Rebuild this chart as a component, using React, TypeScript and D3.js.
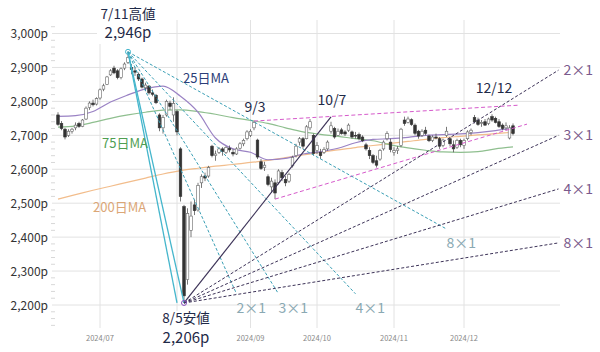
import React from 'react';
import { scaleLinear, line, curveMonotoneX, range } from 'd3';

// trading sessions (Tokyo), June 13 2024 - Dec 20 2024, then future sessions for the fan lines
const junDays = [13, 14, 17, 18, 19, 20, 21, 24, 25, 26, 27, 28];
const julDays = [1, 2, 3, 4, 5, 8, 9, 10, 11, 12, 16, 17, 18, 19, 22, 23, 24, 25, 26, 29, 30, 31];
const augDays = [1, 2, 5, 6, 7, 8, 9, 13, 14, 15, 16, 19, 20, 21, 22, 23, 26, 27, 28, 29, 30];
const sepDays = [2, 3, 4, 5, 6, 9, 10, 11, 12, 13, 17, 18, 19, 20, 24, 25, 26, 27, 30];
const octDays = [1, 2, 3, 4, 7, 8, 9, 10, 11, 15, 16, 17, 18, 21, 22, 23, 24, 25, 28, 29, 30, 31];
const novDays = [1, 5, 6, 7, 8, 11, 12, 13, 14, 15, 18, 19, 20, 21, 22, 25, 26, 27, 28, 29];
const decDays = [2, 3, 4, 5, 6, 9, 10, 11, 12, 13, 16, 17, 18, 19, 20];
const futureDays = ['12/23', '12/24', '12/25', '12/26', '12/27', '12/30', '01/06', '01/07', '01/08', '01/09', '01/10', '01/14', '01/15'];

// [open, high, low, close]
const junBars = [
  [2760, 2768, 2728, 2732], [2735, 2742, 2715, 2720], [2718, 2722, 2688, 2695], [2700, 2718, 2695, 2712],
  [2712, 2722, 2705, 2718], [2722, 2738, 2715, 2730], [2735, 2740, 2722, 2726], [2726, 2748, 2724, 2745],
  [2748, 2785, 2745, 2780], [2782, 2800, 2775, 2795], [2795, 2805, 2785, 2790], [2792, 2812, 2788, 2808],
];
const julBars = [
  [2810, 2838, 2805, 2834], [2836, 2852, 2830, 2846], [2850, 2875, 2848, 2872], [2878, 2895, 2875, 2890],
  [2898, 2905, 2880, 2884], [2890, 2895, 2865, 2870], [2870, 2900, 2865, 2896], [2898, 2915, 2892, 2910],
  [2915, 2946, 2910, 2929], [2900, 2910, 2880, 2894], [2890, 2900, 2875, 2886], [2880, 2885, 2860, 2866],
  [2866, 2870, 2838, 2842], [2840, 2855, 2830, 2848], [2845, 2848, 2820, 2825], [2825, 2835, 2815, 2821],
  [2818, 2822, 2792, 2796], [2760, 2765, 2712, 2722], [2722, 2760, 2705, 2752], [2760, 2805, 2755, 2800],
  [2795, 2802, 2775, 2785], [2760, 2812, 2740, 2794],
];
const augBars = [
  [2770, 2775, 2700, 2710], [2660, 2665, 2505, 2520], [2490, 2495, 2206, 2227], [2275, 2485, 2260, 2470],
  [2420, 2505, 2400, 2462], [2495, 2510, 2465, 2478], [2480, 2560, 2475, 2552], [2560, 2585, 2545, 2578],
  [2580, 2590, 2565, 2574], [2580, 2610, 2575, 2605], [2668, 2672, 2635, 2640], [2640, 2655, 2625, 2645],
  [2650, 2665, 2645, 2660], [2660, 2665, 2640, 2652], [2650, 2668, 2645, 2664], [2662, 2670, 2650, 2657],
  [2650, 2660, 2638, 2645], [2645, 2665, 2642, 2660], [2662, 2680, 2658, 2675], [2675, 2690, 2668, 2685],
  [2690, 2715, 2685, 2710],
];
const sepBars = [
  [2700, 2718, 2695, 2712], [2722, 2742, 2715, 2738], [2686, 2690, 2630, 2636], [2622, 2630, 2598, 2602],
  [2605, 2622, 2595, 2612], [2578, 2585, 2550, 2555], [2548, 2575, 2530, 2565], [2560, 2570, 2512, 2530],
  [2560, 2600, 2555, 2595], [2590, 2598, 2565, 2575], [2570, 2580, 2550, 2560], [2565, 2590, 2560, 2585],
  [2610, 2640, 2605, 2635], [2640, 2675, 2635, 2668], [2680, 2695, 2670, 2690], [2690, 2695, 2660, 2668],
  [2690, 2730, 2688, 2725], [2722, 2748, 2715, 2740], [2700, 2705, 2640, 2647],
];
const octBars = [
  [2655, 2680, 2645, 2670], [2650, 2660, 2630, 2640], [2650, 2665, 2645, 2658], [2660, 2685, 2655, 2680],
  [2712, 2740, 2705, 2728], [2720, 2725, 2690, 2695], [2700, 2720, 2698, 2712], [2716, 2722, 2702, 2705],
  [2710, 2715, 2698, 2704], [2715, 2735, 2710, 2730], [2710, 2714, 2690, 2695], [2700, 2710, 2690, 2698],
  [2702, 2708, 2685, 2690], [2695, 2700, 2680, 2684], [2672, 2678, 2655, 2660], [2655, 2665, 2630, 2640],
  [2640, 2645, 2615, 2620], [2625, 2640, 2605, 2612], [2630, 2660, 2625, 2655], [2660, 2685, 2655, 2680],
  [2690, 2712, 2685, 2705], [2680, 2690, 2650, 2658],
];
const novBars = [
  [2650, 2665, 2640, 2655], [2655, 2668, 2645, 2660], [2670, 2722, 2665, 2718], [2745, 2755, 2728, 2735],
  [2738, 2755, 2735, 2748], [2746, 2750, 2728, 2732], [2730, 2735, 2700, 2706], [2712, 2716, 2690, 2698],
  [2700, 2718, 2695, 2712], [2715, 2725, 2700, 2706], [2698, 2702, 2680, 2684], [2685, 2700, 2680, 2695],
  [2695, 2705, 2688, 2692], [2690, 2695, 2660, 2668], [2670, 2690, 2665, 2686], [2700, 2725, 2695, 2712],
  [2690, 2695, 2668, 2675], [2672, 2685, 2650, 2660], [2665, 2690, 2660, 2685], [2685, 2690, 2665, 2672],
];
const decBars = [
  [2670, 2690, 2660, 2685], [2690, 2715, 2685, 2710], [2708, 2720, 2700, 2715], [2752, 2760, 2735, 2740],
  [2745, 2752, 2728, 2732], [2735, 2745, 2725, 2738], [2740, 2748, 2728, 2730], [2735, 2752, 2730, 2748],
  [2755, 2762, 2740, 2745], [2750, 2755, 2735, 2738], [2740, 2748, 2722, 2726], [2730, 2735, 2715, 2720],
  [2722, 2738, 2715, 2728], [2692, 2730, 2688, 2722], [2728, 2735, 2700, 2705],
];

// moving averages, read every 5 sessions
const maDates = ['06/13', '06/20', '06/27', '07/04', '07/11', '07/19', '07/26', '08/02', '08/09', '08/19', '08/26', '09/02', '09/09', '09/17',
  '09/25', '10/02', '10/09', '10/17', '10/24', '10/31', '11/08', '11/15', '11/22', '11/29', '12/06', '12/13', '12/20'];
const ma25 = [2756, 2758, 2770, 2798, 2819, 2837, 2845, 2815, 2768, 2692, 2660, 2650, 2628, 2632, 2645, 2652, 2662, 2678, 2688, 2690,
  2694, 2700, 2702, 2704, 2708, 2714, 2722];
const ma75 = [2724, 2728, 2738, 2750, 2760, 2768, 2774, 2775, 2770, 2762, 2752, 2744, 2735, 2722, 2710, 2703, 2697, 2690, 2684, 2672,
  2663, 2656, 2651, 2650, 2652, 2660, 2666];
const ma200 = [2512, 2525, 2538, 2550, 2562, 2574, 2586, 2596, 2603, 2609, 2614, 2620, 2626, 2634, 2642, 2650, 2657, 2664, 2670, 2676,
  2682, 2688, 2693, 2697, 2701, 2705, 2709];

// Gann fans and channel lines: [from date, from price, to date, to price, label]
const highFan = [
  ['07/11', 2946, '08/05', 2206, ''],
  ['07/11', 2946, '08/01', 2206, ''],
  ['07/11', 2946, '08/27', 2233, '2×1'],
  ['07/11', 2946, '09/12', 2233, '3×1'],
  ['07/11', 2946, '10/17', 2233, '4×1'],
  ['07/11', 2946, '11/25', 2424, '8×1'],
];
const lowFan = [
  ['08/05', 2206, '10/07', 2754, ''],
  ['08/05', 2206, '01/15', 2892, '2×1'],
  ['08/05', 2206, '01/15', 2700, '3×1'],
  ['08/05', 2206, '01/15', 2542, '4×1'],
  ['08/05', 2206, '01/15', 2383, '8×1'],
];
const channel = [
  ['09/03', 2742, '12/24', 2789],
  ['09/11', 2512, '12/26', 2733],
];

const priceTicks = [3000, 2900, 2800, 2700, 2600, 2500, 2400, 2300, 2200];
const monthTicks = ['07', '08', '09', '10', '11', '12'];
const monthLabels = ['07', '09', '10', '11', '12']; // 08 sits under the 8/5 note

const pad = (n: number) => String(n).padStart(2, '0');
const sessions = [
  ...junDays.map(d => `06/${pad(d)}`),
  ...julDays.map(d => `07/${pad(d)}`),
  ...augDays.map(d => `08/${pad(d)}`),
  ...sepDays.map(d => `09/${pad(d)}`),
  ...octDays.map(d => `10/${pad(d)}`),
  ...novDays.map(d => `11/${pad(d)}`),
  ...decDays.map(d => `12/${pad(d)}`),
  ...futureDays,
];
const bars = [...junBars, ...julBars, ...augBars, ...sepBars, ...octBars, ...novBars, ...decBars];

const FONT = '"Noto Sans CJK JP", "Noto Sans", sans-serif';

export default function App() {
  const left = 52, right = 560, top = 20, bottom = 328;
  const x = scaleLinear().domain([0, sessions.length - 1]).range([58, 558.5]);
  const y = scaleLinear().domain([2200, 3000]).range([305, 33.5]);
  const at = (d: string) => x(sessions.indexOf(d));
  const monthX = (m: string) => x(sessions.findIndex(s => s.startsWith(m + '/')));

  const maLine = line<number>()
    .x((_, i) => at(maDates[i]))
    .y(v => y(v))
    .curve(curveMonotoneX);

  const bw = 2.6;
  const minor = range(2140, 3040, 20).filter(v => v % 100 !== 0);

  return (
    <svg width={600} height={352} style={{ position: 'absolute', left: 0, top: 0, background: '#fff' }} fontFamily={FONT}>
      {/* grid */}
      {priceTicks.map(p => (
        <g key={p}>
          <line x1={left} x2={right} y1={y(p)} y2={y(p)} stroke="#e2e2e2" />
          <text x={48} y={y(p) + 4.5} textAnchor="end" fontSize={12} fill="#333">{`${p.toLocaleString('en-US')}p`}</text>
        </g>
      ))}
      {minor.map(p => (
        <line key={p} x1={left - 1} x2={left + 3} y1={y(p)} y2={y(p)} stroke="#d8d8d8" />
      ))}
      {monthTicks.map(m => (
        <line key={m} x1={monthX(m)} x2={monthX(m)} y1={top} y2={bottom} stroke="#e2e2e2" />
      ))}
      {monthLabels.map(m => (
        <text key={m} x={monthX(m)} y={341} textAnchor="middle" fontSize={7.5} fill="#888">{`2024/${m}`}</text>
      ))}

      {/* moving averages */}
      <path d={maLine(ma200) || ''} fill="none" stroke="#f2bd8c" strokeWidth={1.2} />
      <path d={maLine(ma75) || ''} fill="none" stroke="#8fbf8f" strokeWidth={1.2} />
      <path d={maLine(ma25) || ''} fill="none" stroke="#9a82c4" strokeWidth={1.2} />

      {/* candles */}
      {bars.map(([o, h, l, c], i) => {
        const cx = x(i);
        const up = c >= o;
        return (
          <g key={i}>
            <line x1={cx} x2={cx} y1={y(h)} y2={y(l)} stroke="#555" strokeWidth={0.8} />
            <rect x={cx - bw / 2} width={bw} y={y(Math.max(o, c))} height={Math.max(0.8, Math.abs(y(o) - y(c)))}
              fill={up ? '#fff' : '#333'} stroke={up ? '#666' : '#333'} strokeWidth={0.6} />
          </g>
        );
      })}

      {/* channel */}
      {channel.map(([d0, p0, d1, p1], i) => (
        <line key={i} x1={at(d0 as string)} y1={y(p0 as number)} x2={at(d1 as string)} y2={y(p1 as number)}
          stroke="#d65acb" strokeWidth={1} strokeDasharray="4,2.5" />
      ))}

      {/* fan from the high */}
      {highFan.map(([d0, p0, d1, p1, lab], i) => {
        const x1 = at(d1 as string), y1 = y(p1 as number);
        return (
          <g key={i}>
            <line x1={at(d0 as string)} y1={y(p0 as number)} x2={x1} y2={y1}
              stroke={lab ? '#3a9fb5' : '#45b6cc'} strokeWidth={lab ? 1 : 1.3} strokeDasharray={lab ? '3,2' : undefined} />
            {lab && <text x={x1} y={y1 + 19} fontSize={14} fill="#8aa9b3">{lab}</text>}
          </g>
        );
      })}

      {/* fan from the low */}
      {lowFan.map(([d0, p0, d1, p1, lab], i) => {
        const x1 = at(d1 as string), y1 = y(p1 as number);
        return (
          <g key={i}>
            <line x1={at(d0 as string)} y1={y(p0 as number)} x2={x1} y2={y1}
              stroke="#3d3358" strokeWidth={lab ? 1 : 1.2} strokeDasharray={lab ? '3,2' : undefined} />
            {lab && <text x={x1 + 5} y={y1 + 5} fontSize={14} fill="#7a5a8c">{lab}</text>}
          </g>
        );
      })}
      <circle cx={at('07/11')} cy={y(2946)} r={2.5} fill="none" stroke="#45b6cc" />
      <circle cx={at('08/05')} cy={y(2206)} r={2.5} fill="none" stroke="#8a4fc0" />

      {/* annotations */}
      <rect x={97} y={4} width={62} height={40} fill="#fff" />
      <text x={128} y={19} textAnchor="middle" fontSize={13.5} fill="#1f2a48">7/11高値</text>
      <text x={128} y={38} textAnchor="middle" fontSize={15} fill="#1f2a48">2,946p</text>
      <rect x={158} y={311} width={56} height={37} fill="#fff" />
      <text x={186} y={323} textAnchor="middle" fontSize={13.5} fill="#1f2a48">8/5安値</text>
      <text x={186} y={343} textAnchor="middle" fontSize={15} fill="#1f2a48">2,206p</text>
      <text x={255} y={112} textAnchor="middle" fontSize={14} fill="#1f2a48">9/3</text>
      <text x={332} y={105} textAnchor="middle" fontSize={14} fill="#1f2a48">10/7</text>
      <text x={494} y={93} textAnchor="middle" fontSize={14} fill="#1f2a48">12/12</text>
      <text x={183} y={83} fontSize={13} fill="#2c3e78">25日MA</text>
      <text x={102} y={148} fontSize={13} fill="#4f9e52">75日MA</text>
      <text x={93} y={212} fontSize={13} fill="#dba676">200日MA</text>
    </svg>
  );
}
